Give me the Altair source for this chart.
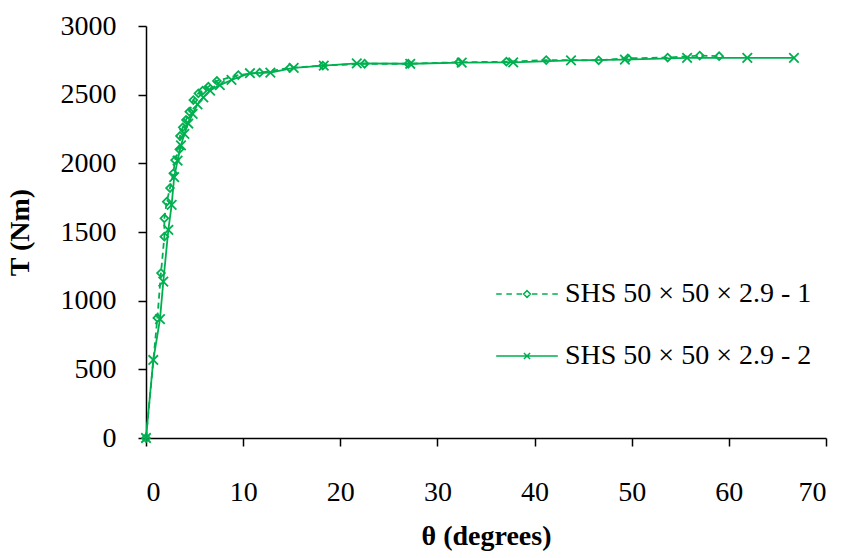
import altair as alt
import pandas as pd

# ---- data ----
theta1 = [0, 1.17, 1.54, 1.89, 1.89, 2.14, 2.47, 2.81, 2.99, 3.43, 3.50, 3.78, 4.12, 4.46,
          4.87, 5.39, 5.83, 6.42, 7.30, 9.50, 11.7, 14.8, 18.2, 22.5, 27.0, 32.2, 37.1,
          41.2, 46.6, 49.6, 53.7, 57.0, 59.0]
torque1 = [0, 874, 1201, 1466, 1600, 1721, 1820, 1927, 2024, 2102, 2199, 2262, 2316, 2376,
           2461, 2510, 2529, 2558, 2600, 2643, 2660, 2695, 2712, 2725, 2725, 2736, 2740,
           2752, 2750, 2765, 2770, 2785, 2780]

theta2 = [0, 0.75, 1.44, 1.78, 2.30, 2.64, 2.90, 3.25, 3.60, 3.95, 4.35, 4.80, 5.30, 5.90,
          6.60, 7.60, 8.80, 10.7, 12.8, 15.2, 18.3, 21.7, 27.2, 32.5, 37.8, 43.75, 49.3,
          55.7, 61.9, 66.7]
torque2 = [0, 568, 866, 1138, 1515, 1697, 1900, 2020, 2130, 2215, 2290, 2360, 2430, 2480,
           2530, 2570, 2607, 2656, 2660, 2695, 2712, 2728, 2725, 2733, 2735, 2750, 2755,
           2768, 2768, 2768]

series_names = ["SHS 50 × 50 × 2.9 - 1", "SHS 50 × 50 × 2.9 - 2"]
x_ticks = [0, 10, 20, 30, 40, 50, 60, 70]
y_ticks = [0, 500, 1000, 1500, 2000, 2500, 3000]

GREEN = "#00B050"
FONT = "Liberation Serif"

df1 = pd.DataFrame({"theta": theta1, "T": torque1, "i": list(range(len(theta1)))})
df2 = pd.DataFrame({"theta": theta2, "T": torque2, "i": list(range(len(theta2)))})
df_leg = pd.DataFrame({"series": series_names, "theta": [0, 0], "T": [0, 0]})

xscale = alt.Scale(domain=[0, 70], nice=False, zero=False)
yscale = alt.Scale(domain=[0, 3000], nice=False, zero=False)

xaxis = alt.Axis(values=x_ticks, title="θ (degrees)", grid=False, tickSize=8, format="d",
                 labelPadding=32, titleY=84, titleBaseline="top")
yaxis = alt.Axis(values=y_ticks, title="T (Nm)", grid=False, tickSize=8, format="d",
                 labelPadding=22, titleX=-112)

X = alt.X("theta:Q", scale=xscale, axis=xaxis)
Y = alt.Y("T:Q", scale=yscale, axis=yaxis)

cross_path = "M-1,-1L1,1M-1,1L1,-1"

line1 = alt.Chart(df1).mark_line(color=GREEN, strokeWidth=1.8, strokeDash=[6, 4]).encode(
    x=X, y=Y, order="i:Q")
pts1 = alt.Chart(df1).mark_point(shape="diamond", filled=False, color=GREEN, size=60,
                                 strokeWidth=1.8, opacity=1).encode(x=X, y=Y)
line2 = alt.Chart(df2).mark_line(color=GREEN, strokeWidth=1.8).encode(
    x=X, y=Y, order="i:Q")
pts2 = alt.Chart(df2).mark_point(shape=cross_path, filled=False, color=GREEN, size=90,
                                 strokeWidth=1.8, opacity=1).encode(x=X, y=Y)

leg_path1 = ("M-1,0H-0.82M-0.67,0H-0.49M-0.34,0H-0.16"
             "M-0.11,0L0,-0.11L0.11,0L0,0.11Z"
             "M0.16,0H0.34M0.49,0H0.67M0.82,0H1")
leg_path2 = "M-1,0H1M-0.1,-0.1L0.1,0.1M-0.1,0.1L0.1,-0.1"

legend_layer = alt.Chart(df_leg).transform_filter("false").mark_point(
    filled=False, color=GREEN, size=3800, strokeWidth=1.5, opacity=1
).encode(
    x=X, y=Y,
    shape=alt.Shape("series:N",
                    scale=alt.Scale(domain=series_names, range=[leg_path1, leg_path2]),
                    legend=alt.Legend(orient="none", legendX=349, legendY=236, title=None,
                                      labelFont=FONT, labelFontSize=28, labelColor="black",
                                      symbolSize=3800, symbolStrokeWidth=1.5,
                                      symbolStrokeColor=GREEN, symbolFillColor="transparent",
                                      padding=0, rowPadding=16, labelOffset=6,
                                      labelLimit=400)),
)

chart = alt.layer(line1, line2, pts1, pts2, legend_layer).properties(
    width=680, height=412,
    autosize=alt.AutoSizeParams(type="none"),
    padding={"left": 146, "top": 26, "right": 22, "bottom": 120},
).configure(background="white").configure_view(stroke=None).configure_axis(
    labelFont=FONT, labelFontSize=28, labelColor="black",
    titleFont=FONT, titleFontSize=28, titleFontWeight="bold", titleColor="black",
    domainColor="black", domainWidth=1.5, tickColor="black", tickWidth=1.5,
)

chart.save("out.html", embed_options={"renderer": "svg", "actions": False})
